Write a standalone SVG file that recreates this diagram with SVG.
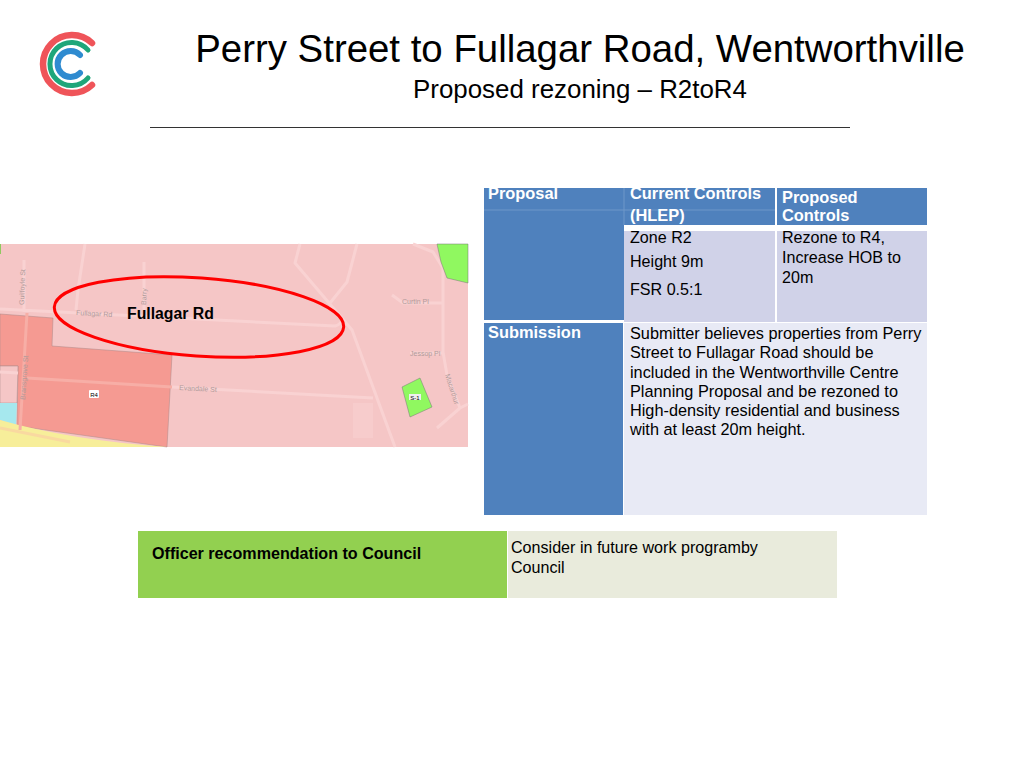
<svg xmlns="http://www.w3.org/2000/svg" width="1020" height="773" viewBox="0 0 1020 773">
<style>
text{font-family:"Liberation Sans",Arial,sans-serif;fill:#000}
.b{font-size:16.100px;fill:#000}
.s{font-size:16.300px;fill:#000}
.h{font-size:16.400px;font-weight:bold;fill:#fff}
.road{fill:none;stroke:#f9d2d2;stroke-width:3;stroke-linejoin:round}
.roadr{fill:none;stroke:#f7aea6;stroke-width:3}
.m{font-size:7px;fill:#b09a9a}
</style>
<rect width="1020" height="773" fill="#fff"/>
<g id="logo" fill="none" stroke-linecap="round">
<path d="M92 43A29 29 0 1 0 92 85" stroke="#ef5459" stroke-width="6.500"/>
<path d="M88 50A21.600 21.600 0 1 0 88 78" stroke="#1fa67a" stroke-width="5"/>
<path d="M80 55A13 13 0 1 0 80 73" stroke="#2f8bd0" stroke-width="6"/>
</g>
<g id="title">
<text x="580" y="62" font-size="38.400" text-anchor="middle">Perry Street to Fullagar Road, Wentworthville</text>
<text x="580" y="98" font-size="25.900" text-anchor="middle">Proposed rezoning – R2toR4</text>
<rect x="150" y="127" width="700" height="1" fill="#333"/>
</g>
<g id="map">
<rect x="0" y="244" width="468" height="203" fill="#f5c6c6"/>
<path class="road" d="M0 309L335 326Q340 325 342 320M85 244L78 290L76 310M24 260V312M144 262V310M300 244L295 263L352 330L395 447M357 244L347 282L330 303M392 295L403 303H443M410 353H442M413 244L433 252L443 268V352L447 375L460 408L437 428M460 408L468 404M172 387L373 398"/>
<path d="M0 314L53 318L52 346L172 355L167 447L17 426L18 366L0 366Z" fill="#f59a92" stroke="#a88" stroke-width=".5"/>
<path d="M0 366H18L17 403H0Z" fill="#f5c6c6" stroke="#a88" stroke-width=".5"/>
<path d="M0 403H17L16 426L0 420Z" fill="#a6e8ee"/>
<path d="M0 420Q70 440 167 447H0Z" fill="#f7ee9a"/>
<path d="M0 428L70 442" stroke="#f9d9a0" stroke-width="3" fill="none"/>
<path class="roadr" d="M27 313L20 430M27 378L172 387"/>
<path class="road" d="M0 372L18 373"/>
<path d="M437 244H468V283L447 278L441 262Z" fill="#90f860" stroke="#777" stroke-width=".5"/>
<path d="M402 387L420 378L432 407L410 417Z" fill="#90f860" stroke="#777" stroke-width=".5"/>
<path d="M353 403H373V438H353Z" fill="#f7cccc"/>
<rect x="0" y="244" width="1" height="10" fill="#90c860"/>
<text class="m" x="76" y="315" transform="rotate(3 76 315)">Fullagar   Rd</text>
<text class="m" x="179" y="390" transform="rotate(3 179 390)">Evandale   St</text>
<text class="m" x="402" y="304">Curtin   Pl</text>
<text class="m" x="410" y="356">Jessop   Pl</text>
<text class="m" x="25" y="400" transform="rotate(-86 25 400)">Bransgrove  St</text>
<text class="m" x="24" y="305" transform="rotate(-88 24 305)">Guilfoyle  St</text>
<text class="m" x="146" y="305" transform="rotate(-88 146 305)">Barry</text>
<text class="m" x="445" y="375" transform="rotate(72 445 375)">Macarthur</text>
<rect x="89" y="390" width="10" height="8" rx="1" fill="#fff"/>
<text x="94" y="396.500" font-size="6" text-anchor="middle" fill="#333">R4</text>
<rect x="409" y="394" width="12" height="6" fill="#eee"/>
<text x="415" y="399.500" font-size="6" text-anchor="middle" fill="#222">S-1</text>
<ellipse cx="199" cy="317" rx="145" ry="39" transform="rotate(4 199 317)" fill="none" stroke="#f00" stroke-width="3"/>
<text x="127" y="319" font-size="15.800" font-weight="bold">Fullagar Rd</text>
</g>
<g id="proposal-table">
<rect x="484" y="188" width="140" height="132" fill="#4f81bd"/>
<rect x="484" y="209.500" width="140" height="1" fill="#6e97c9"/>
<rect x="624" y="188" width="151" height="37" fill="#4f81bd"/>
<rect x="624" y="209.500" width="151" height="1" fill="#6e97c9"/>
<rect x="623.500" y="188" width="1" height="37" fill="#6e97c9"/>
<rect x="777" y="188" width="150" height="37" fill="#4f81bd"/>
<rect x="624" y="231" width="151" height="91" fill="#d0d2e8"/>
<rect x="777" y="231" width="150" height="91" fill="#d0d2e8"/>
<rect x="484" y="323" width="139" height="192" fill="#4f81bd"/>
<rect x="624" y="323" width="303" height="192" fill="#e8eaf5"/>
<text class="h" x="488" y="199">Proposal</text>
<text class="h" x="630" y="199">Current Controls</text>
<text class="h" x="630" y="221">(HLEP)</text>
<text class="h" x="782" y="203">Proposed</text>
<text class="h" x="782" y="221">Controls</text>
<text class="b" x="630" y="243">Zone R2</text>
<text class="b" x="630" y="267">Height 9m</text>
<text class="b" x="630" y="295">FSR 0.5:1</text>
<text class="b" x="782" y="243">Rezone to R4,</text>
<text class="b" x="782" y="263">Increase HOB to</text>
<text class="b" x="782" y="283">20m</text>
<text class="h" x="488" y="338">Submission</text>
<text class="s" x="630" y="339">Submitter believes properties from Perry</text>
<text class="s" x="630" y="358">Street to Fullagar Road should be</text>
<text class="s" x="630" y="378">included in the Wentworthville Centre</text>
<text class="s" x="630" y="397">Planning Proposal and be rezoned to</text>
<text class="s" x="630" y="416">High-density residential and business</text>
<text class="s" x="630" y="435">with at least 20m height.</text>
</g>
<g id="recommendation">
<rect x="138" y="531" width="369" height="67" fill="#92d050"/>
<rect x="508" y="531" width="329" height="67" fill="#e9ebdc"/>
<text x="152" y="559" font-size="16.100" font-weight="bold">Officer recommendation to Council</text>
<text class="b" x="511" y="553">Consider in future work programby</text>
<text class="b" x="511" y="573">Council</text>
</g>
</svg>
